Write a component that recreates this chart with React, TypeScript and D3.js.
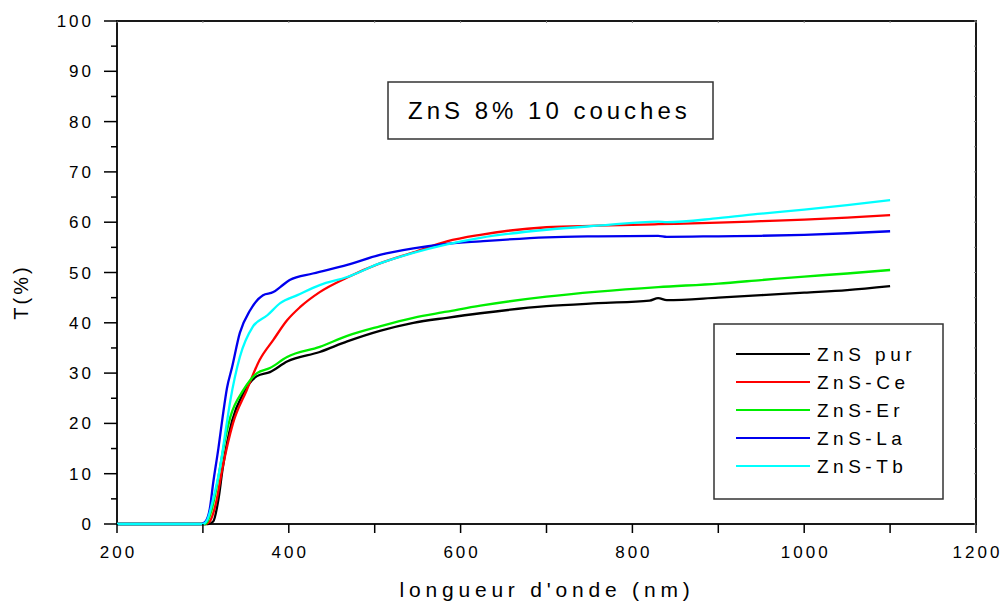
import React from "react";
import * as d3 from "d3";

const W = 1007;
const H = 606;

const seriesNames = ["ZnS pur", "ZnS-Ce", "ZnS-Er", "ZnS-La", "ZnS-Tb"];
const seriesColors = ["#000000", "#ff0000", "#00ee00", "#0000ee", "#00ffff"];

const pur: [number, number][] = [
  [200, 0], [306, 0], [312, 0.5], [318, 4.8], [323, 11], [328, 16], [334, 20.5], [347, 26],
  [363, 29.4], [378, 30.2], [398, 32.3], [436, 34.2], [468, 36.3], [506, 38.4], [545, 40],
  [584, 41], [623, 41.9], [700, 43.3], [760, 43.9], [820, 44.4], [830, 44.9], [840, 44.5],
  [900, 45], [950, 45.5], [1000, 46], [1050, 46.5], [1100, 47.3],
];
const ce: [number, number][] = [
  [200, 0], [303, 0], [308, 0.5], [315, 4], [323, 11.3], [335, 20], [351, 26.6], [366, 32.6],
  [382, 36.6], [398, 40.5], [413, 43.1], [436, 46.1], [468, 49], [506, 51.8], [545, 54],
  [584, 56.2], [623, 57.5], [700, 59], [760, 59.3], [830, 59.6], [900, 59.9], [950, 60.2],
  [1000, 60.5], [1050, 60.9], [1100, 61.4],
];
const er: [number, number][] = [
  [200, 0], [303, 0], [310, 2.7], [315, 6.5], [320, 11.3], [326, 17], [332, 21.3], [347, 26.6],
  [363, 30], [378, 31], [398, 33.2], [436, 35.2], [468, 37.4], [506, 39.3], [545, 41],
  [584, 42.2], [623, 43.4], [700, 45.2], [760, 46.2], [830, 47.1], [900, 47.8], [950, 48.5],
  [1000, 49.2], [1050, 49.8], [1100, 50.5],
];
const la: [number, number][] = [
  [200, 0], [298, 0], [303, 0.5], [308, 3], [312, 8.2], [318, 15], [323, 21.3], [328, 27],
  [334, 31.2], [343, 38], [355, 42.5], [370, 45.5], [382, 46.1], [390, 47.1], [401, 48.5],
  [428, 49.8], [468, 51.5], [506, 53.5], [545, 54.8], [584, 55.7], [623, 56.2], [700, 57],
  [760, 57.2], [830, 57.3], [840, 57.1], [900, 57.2], [950, 57.3], [1000, 57.5], [1050, 57.8],
  [1100, 58.2],
];
const tb: [number, number][] = [
  [200, 0], [300, 0], [305, 0.8], [312, 5], [320, 11.3], [326, 18], [332, 24.6], [343, 33.2],
  [358, 39.2], [375, 41.5], [390, 43.9], [410, 45.5], [436, 47.5], [468, 49.1], [506, 51.8],
  [545, 53.9], [584, 55.6], [623, 56.9], [700, 58.5], [760, 59.3], [830, 60.1], [840, 60.0],
  [900, 60.8], [950, 61.7], [1000, 62.5], [1050, 63.4], [1100, 64.4],
];
const seriesData = [pur, ce, er, la, tb];

const xTicks = [200, 400, 600, 800, 1000, 1200];
const xMinorTicks = [300, 500, 700, 900, 1100];
const yTicks = [0, 10, 20, 30, 40, 50, 60, 70, 80, 90, 100];
const yMinorTicks = [5, 15, 25, 35, 45, 55, 65, 75, 85, 95];

const titleText = "ZnS 8% 10 couches";
const xLabel = "longueur d'onde (nm)";
const yLabel = "T(%)";

const FONT = "'Liberation Sans', Arial, sans-serif";

export default function App() {
  const left = 117, right = 976, top = 21, bottom = 524;
  const x = d3.scaleLinear().domain([200, 1200]).range([left, right]);
  const y = d3.scaleLinear().domain([0, 100]).range([bottom, top]);
  const line = d3.line<[number, number]>().x((d) => x(d[0])).y((d) => y(d[1])).curve(d3.curveMonotoneX);

  const legendX = 714, legendY = 324, legendW = 229, legendH = 175;

  return (
    <svg width={W} height={H} style={{ position: "absolute", left: 0, top: 0, background: "#fff" }}>
      <rect x={0} y={0} width={W} height={H} fill="#fff" />
      {/* frame */}
      <rect x={left} y={top} width={right - left} height={bottom - top} fill="none" stroke="#000" strokeWidth={1.8} />
      {/* curves */}
      <g>
        {seriesData.map((s, i) => (
          <path key={i} d={line(s) || ""} fill="none" stroke={seriesColors[i]} strokeWidth={2.3} strokeLinejoin="round" />
        ))}
      </g>
      {/* bottom axis ticks */}
      {xTicks.concat(xMinorTicks).map((t) => (
        <line key={"xb" + t} x1={x(t)} x2={x(t)} y1={bottom} y2={bottom + 9} stroke="#000" strokeWidth={1.5} />
      ))}
      {/* top axis small ticks */}
      {xTicks.concat(xMinorTicks).map((t) => (
        <line key={"xt" + t} x1={x(t)} x2={x(t)} y1={top} y2={top + 2} stroke="#888" strokeWidth={1} />
      ))}
      {xTicks.map((t) => (
        <text key={"xl" + t} x={x(t) + 1.5} y={558} textAnchor="middle" fontFamily={FONT} fontSize={17} letterSpacing={3} fill="#000">
          {t}
        </text>
      ))}
      {/* left axis ticks */}
      {yTicks.map((t) => (
        <line key={"yl" + t} x1={left - 13} x2={left} y1={y(t)} y2={y(t)} stroke="#000" strokeWidth={1.5} />
      ))}
      {yMinorTicks.map((t) => (
        <line key={"ym" + t} x1={left - 6} x2={left} y1={y(t)} y2={y(t)} stroke="#000" strokeWidth={1.5} />
      ))}
      {yTicks.concat(yMinorTicks).map((t) => (
        <line key={"yr" + t} x1={right - 2} x2={right} y1={y(t)} y2={y(t)} stroke="#888" strokeWidth={1} />
      ))}
      {yTicks.map((t) => (
        <text key={"ytl" + t} x={94} y={y(t) + 6} textAnchor="end" fontFamily={FONT} fontSize={17} letterSpacing={3} fill="#000">
          {t}
        </text>
      ))}
      {/* axis titles */}
      <text x={547} y={597} textAnchor="middle" fontFamily={FONT} fontSize={21} letterSpacing={4.8} fill="#000">
        {xLabel}
      </text>
      <text transform={`translate(28,292) rotate(-90)`} textAnchor="middle" fontFamily={FONT} fontSize={20} letterSpacing={3} fill="#000">
        {yLabel}
      </text>
      {/* title box */}
      <rect x={388} y={82} width={325} height={57} fill="#fff" stroke="#333" strokeWidth={1.5} />
      <text x={408} y={119} fontFamily={FONT} fontSize={24} letterSpacing={4} fill="#000">
        {titleText}
      </text>
      {/* legend */}
      <rect x={legendX} y={legendY} width={legendW} height={legendH} fill="#fff" stroke="#333" strokeWidth={1.5} />
      {seriesNames.map((n, i) => {
        const yy = 354 + i * 28;
        return (
          <g key={n}>
            <line x1={736} x2={810} y1={yy} y2={yy} stroke={seriesColors[i]} strokeWidth={2.2} />
            <text x={817} y={yy + 7} fontFamily={FONT} fontSize={19} letterSpacing={4.5} fill="#000">
              {n}
            </text>
          </g>
        );
      })}
    </svg>
  );
}
